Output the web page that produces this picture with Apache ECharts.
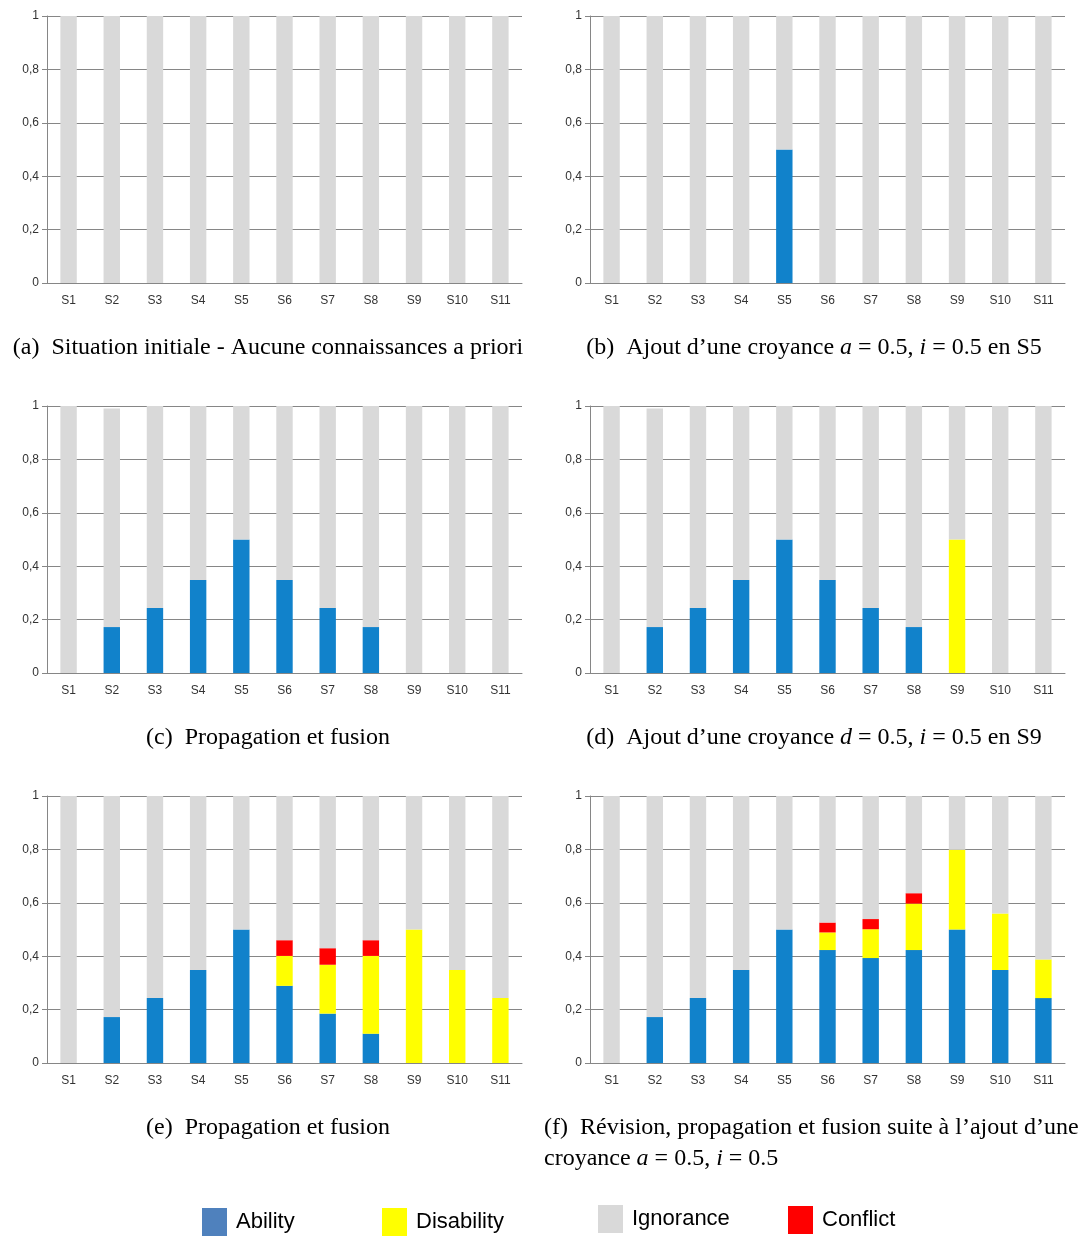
<!DOCTYPE html>
<html>
<head>
<meta charset="utf-8">
<script src="https://cdn.jsdelivr.net/npm/echarts@6/dist/echarts.min.js"></script>
<style>
  html, body { margin: 0; padding: 0; background: #fff; }
  #chart { width: 1088px; height: 1236px; }
</style>
</head>
<body>
<div id="chart"></div>
<script>
const categories = ['S1', 'S2', 'S3', 'S4', 'S5', 'S6', 'S7', 'S8', 'S9', 'S10', 'S11'];

// (a) situation initiale
const abilityA    = [0, 0, 0, 0, 0, 0, 0, 0, 0, 0, 0];
const disabilityA = [0, 0, 0, 0, 0, 0, 0, 0, 0, 0, 0];
const conflictA   = [0, 0, 0, 0, 0, 0, 0, 0, 0, 0, 0];
const ignoranceA  = [1, 1, 1, 1, 1, 1, 1, 1, 1, 1, 1];

// (b) ajout a=0.5 en S5
const abilityB    = [0, 0, 0, 0, 0.5, 0, 0, 0, 0, 0, 0];
const disabilityB = [0, 0, 0, 0, 0, 0, 0, 0, 0, 0, 0];
const conflictB   = [0, 0, 0, 0, 0, 0, 0, 0, 0, 0, 0];
const ignoranceB  = [1, 1, 1, 1, 0.5, 1, 1, 1, 1, 1, 1];

// (c) propagation et fusion
const abilityC    = [0, 0.172, 0.243, 0.348, 0.5, 0.348, 0.243, 0.172, 0, 0, 0];
const disabilityC = [0, 0, 0, 0, 0, 0, 0, 0, 0, 0, 0];
const conflictC   = [0, 0, 0, 0, 0, 0, 0, 0, 0, 0, 0];
const ignoranceC  = [1, 0.819, 0.757, 0.652, 0.5, 0.652, 0.757, 0.828, 1, 1, 1];

// (d) ajout d=0.5 en S9
const abilityD    = [0, 0.172, 0.243, 0.348, 0.5, 0.348, 0.243, 0.172, 0, 0, 0];
const disabilityD = [0, 0, 0, 0, 0, 0, 0, 0, 0.5, 0, 0];
const conflictD   = [0, 0, 0, 0, 0, 0, 0, 0, 0, 0, 0];
const ignoranceD  = [1, 0.819, 0.757, 0.652, 0.5, 0.652, 0.757, 0.828, 0.5, 1, 1];

// (e) propagation et fusion
const abilityE    = [0, 0.172, 0.243, 0.348, 0.5, 0.289, 0.185, 0.11, 0, 0, 0];
const disabilityE = [0, 0, 0, 0, 0, 0.112, 0.183, 0.291, 0.5, 0.348, 0.243];
const conflictE   = [0, 0, 0, 0, 0, 0.059, 0.062, 0.059, 0, 0, 0];
const ignoranceE  = [1, 0.828, 0.757, 0.652, 0.5, 0.54, 0.57, 0.54, 0.5, 0.652, 0.757];

// (f) revision, propagation et fusion
const abilityF    = [0, 0.172, 0.243, 0.348, 0.5, 0.423, 0.393, 0.423, 0.5, 0.348, 0.243];
const disabilityF = [0, 0, 0, 0, 0, 0.066, 0.108, 0.174, 0.299, 0.212, 0.145];
const conflictF   = [0, 0, 0, 0, 0, 0.037, 0.038, 0.039, 0, 0, 0];
const ignoranceF  = [1, 0.828, 0.757, 0.652, 0.5, 0.474, 0.461, 0.364, 0.201, 0.44, 0.612];

const panels = [
  [abilityA, disabilityA, conflictA, ignoranceA],
  [abilityB, disabilityB, conflictB, ignoranceB],
  [abilityC, disabilityC, conflictC, ignoranceC],
  [abilityD, disabilityD, conflictD, ignoranceD],
  [abilityE, disabilityE, conflictE, ignoranceE],
  [abilityF, disabilityF, conflictF, ignoranceF],
];

const seriesNames = ['Ability', 'Disability', 'Conflict', 'Ignorance'];
const seriesColors = ['#1182CB', '#FFFF00', '#FF0000', '#D9D9D9'];

const chart = echarts.init(document.getElementById('chart'));

const gridLefts = [47, 590];
const gridTops = [16, 406, 796];
const axisColor = '#868686';
const labelFont = { fontFamily: 'Liberation Sans, Arial, sans-serif', fontSize: 12, color: '#333' };

const grids = [], xAxes = [], yAxes = [], series = [];
panels.forEach((panel, p) => {
  grids.push({
    left: gridLefts[p % 2],
    top: gridTops[Math.floor(p / 2)],
    width: 475,
    height: 267,
  });
  xAxes.push({
    type: 'category',
    gridIndex: p,
    data: categories,
    axisLine: { lineStyle: { color: axisColor } },
    axisTick: { length: 5, lineStyle: { color: axisColor } },
    axisLabel: { ...labelFont, margin: 12 },
  });
  yAxes.push({
    type: 'value',
    gridIndex: p,
    min: 0,
    max: 1,
    interval: 0.2,
    axisLine: { show: true, lineStyle: { color: axisColor } },
    axisTick: { show: true, length: 5, lineStyle: { color: axisColor } },
    axisLabel: {
      ...labelFont,
      margin: 8,
      formatter: (v) => String(Math.round(v * 10) / 10).replace('.', ','),
    },
    splitLine: { lineStyle: { color: axisColor, width: 1 } },
  });
  panel.forEach((values, k) => {
    series.push({
      name: seriesNames[k],
      type: 'bar',
      xAxisIndex: p,
      yAxisIndex: p,
      stack: 'panel' + p,
      barWidth: '38%',
      itemStyle: { color: seriesColors[k] },
      data: values,
      silent: true,
    });
  });
});

const serif = 'Liberation Serif, Times New Roman, serif';
const capStyle = {
  fontFamily: serif,
  fontSize: 24,
  fontWeight: 'normal',
  color: '#000',
  rich: {
    i: { fontFamily: serif, fontSize: 24, fontStyle: 'italic', color: '#000' },
  },
};

const captions = [
  { text: '(a)  Situation initiale - Aucune connaissances a priori', left: 268, top: 336, textAlign: 'center' },
  { text: '(b)  Ajout d’une croyance {i|a} = 0.5, {i|i} = 0.5 en S5', left: 814, top: 336, textAlign: 'center' },
  { text: '(c)  Propagation et fusion', left: 268, top: 726, textAlign: 'center' },
  { text: '(d)  Ajout d’une croyance {i|d} = 0.5, {i|i} = 0.5 en S9', left: 814, top: 726, textAlign: 'center' },
  { text: '(e)  Propagation et fusion', left: 268, top: 1116, textAlign: 'center' },
  { text: '(f)  Révision, propagation et fusion suite à l’ajout d’une', left: 544, top: 1116, textAlign: 'left' },
  { text: 'croyance {i|a} = 0.5, {i|i} = 0.5', left: 544, top: 1147, textAlign: 'left' },
];

const legendItems = [
  { name: 'Ability', color: '#4F81BD', left: 202, top: 1208 },
  { name: 'Disability', color: '#FFFF00', left: 382, top: 1208 },
  { name: 'Ignorance', color: '#D9D9D9', left: 598, top: 1205 },
  { name: 'Conflict', color: '#FF0000', left: 788, top: 1206 },
];

const option = {
  animation: false,
  backgroundColor: '#fff',
  title: captions.map((c) => ({
    text: c.text,
    left: c.left,
    top: c.top,
    textAlign: c.textAlign,
    padding: 0,
    textStyle: capStyle,
  })),
  legend: legendItems.map((l) => ({
    data: [{ name: l.name, itemStyle: { color: l.color } }],
    left: l.left,
    top: l.top,
    padding: 0,
    icon: 'rect',
    itemWidth: 25,
    itemHeight: 28,
    selectedMode: false,
    textStyle: {
      fontFamily: 'Liberation Sans, Arial, sans-serif',
      fontSize: 22,
      color: '#000',
      padding: [0, 0, 0, 4],
    },
  })),
  grid: grids,
  xAxis: xAxes,
  yAxis: yAxes,
  series: series,
};

chart.setOption(option);
</script>
</body>
</html>
